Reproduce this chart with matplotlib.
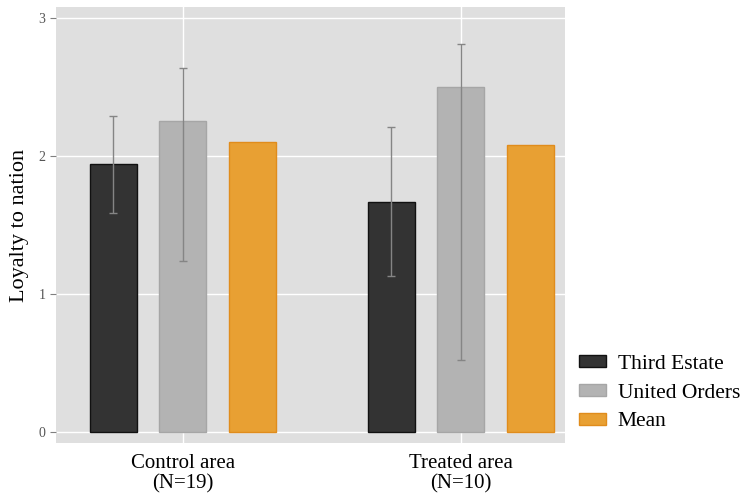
import matplotlib
matplotlib.use("Agg")
import matplotlib.pyplot as plt
import numpy as np

plt.rcParams['font.family'] = ['Liberation Serif', 'DejaVu Serif']

areas = ["Control area\n(N=19)", "Treated area\n(N=10)"]
series = ["Third Estate", "United Orders", "Mean"]
values = {
    "Third Estate": [1.94, 1.67],
    "United Orders": [2.25, 2.50],
    "Mean": [2.10, 2.08],
}
err_low = {
    "Third Estate": [1.59, 1.13],
    "United Orders": [1.24, 0.52],
}
err_high = {
    "Third Estate": [2.29, 2.21],
    "United Orders": [2.64, 2.81],
}
fills = ["#333333", "#b3b3b3", "#e8a033"]
edges = ["#111111", "#a6a6a6", "#e08c1c"]

fig = plt.figure(figsize=(7.45, 4.95), dpi=100)
ax = fig.add_axes([0.0752, 0.105, 0.6832, 0.881])
ax.set_facecolor("#dfdfdf")

x = np.array([1.0, 2.0])
offsets = [-0.25, 0.0, 0.25]
w = 0.169
for s, off, fc, ec in zip(series, offsets, fills, edges):
    ax.bar(x + off, values[s], w, color=fc, edgecolor=ec, linewidth=1.0,
           label=s, zorder=2)
    if s in err_low:
        v = np.array(values[s])
        lo = v - np.array(err_low[s])
        hi = np.array(err_high[s]) - v
        ax.errorbar(x + off, v, yerr=[lo, hi], fmt="none", ecolor="#858585",
                    elinewidth=1.0, capsize=3, capthick=1.0, zorder=3)

ax.set_xlim(0.544, 2.374)
ax.set_ylim(-0.08, 3.08)
ax.set_yticks([0, 1, 2, 3])
ax.set_xticks(x)
ax.set_xticklabels(areas, fontsize=15, linespacing=1.05)
ax.grid(True, color="white", linewidth=1.0, zorder=0)
ax.set_axisbelow(True)
for sp in ax.spines.values():
    sp.set_visible(False)
ax.tick_params(axis="y", colors="#7f7f7f", labelsize=10, length=4, labelcolor="#555555")
ax.tick_params(axis="x", length=0, pad=8, labelcolor="black")
ax.set_ylabel("Loyalty to nation", fontsize=16, labelpad=7)

handles, labels = ax.get_legend_handles_labels()
fig.legend(handles, labels, loc="center left", bbox_to_anchor=(0.777, 0.206),
           frameon=False, fontsize=15.5, handlelength=1.25, handleheight=0.47,
           labelspacing=0.46, handletextpad=0.55, borderpad=0, borderaxespad=0)

fig.savefig("out.png", dpi=100)
